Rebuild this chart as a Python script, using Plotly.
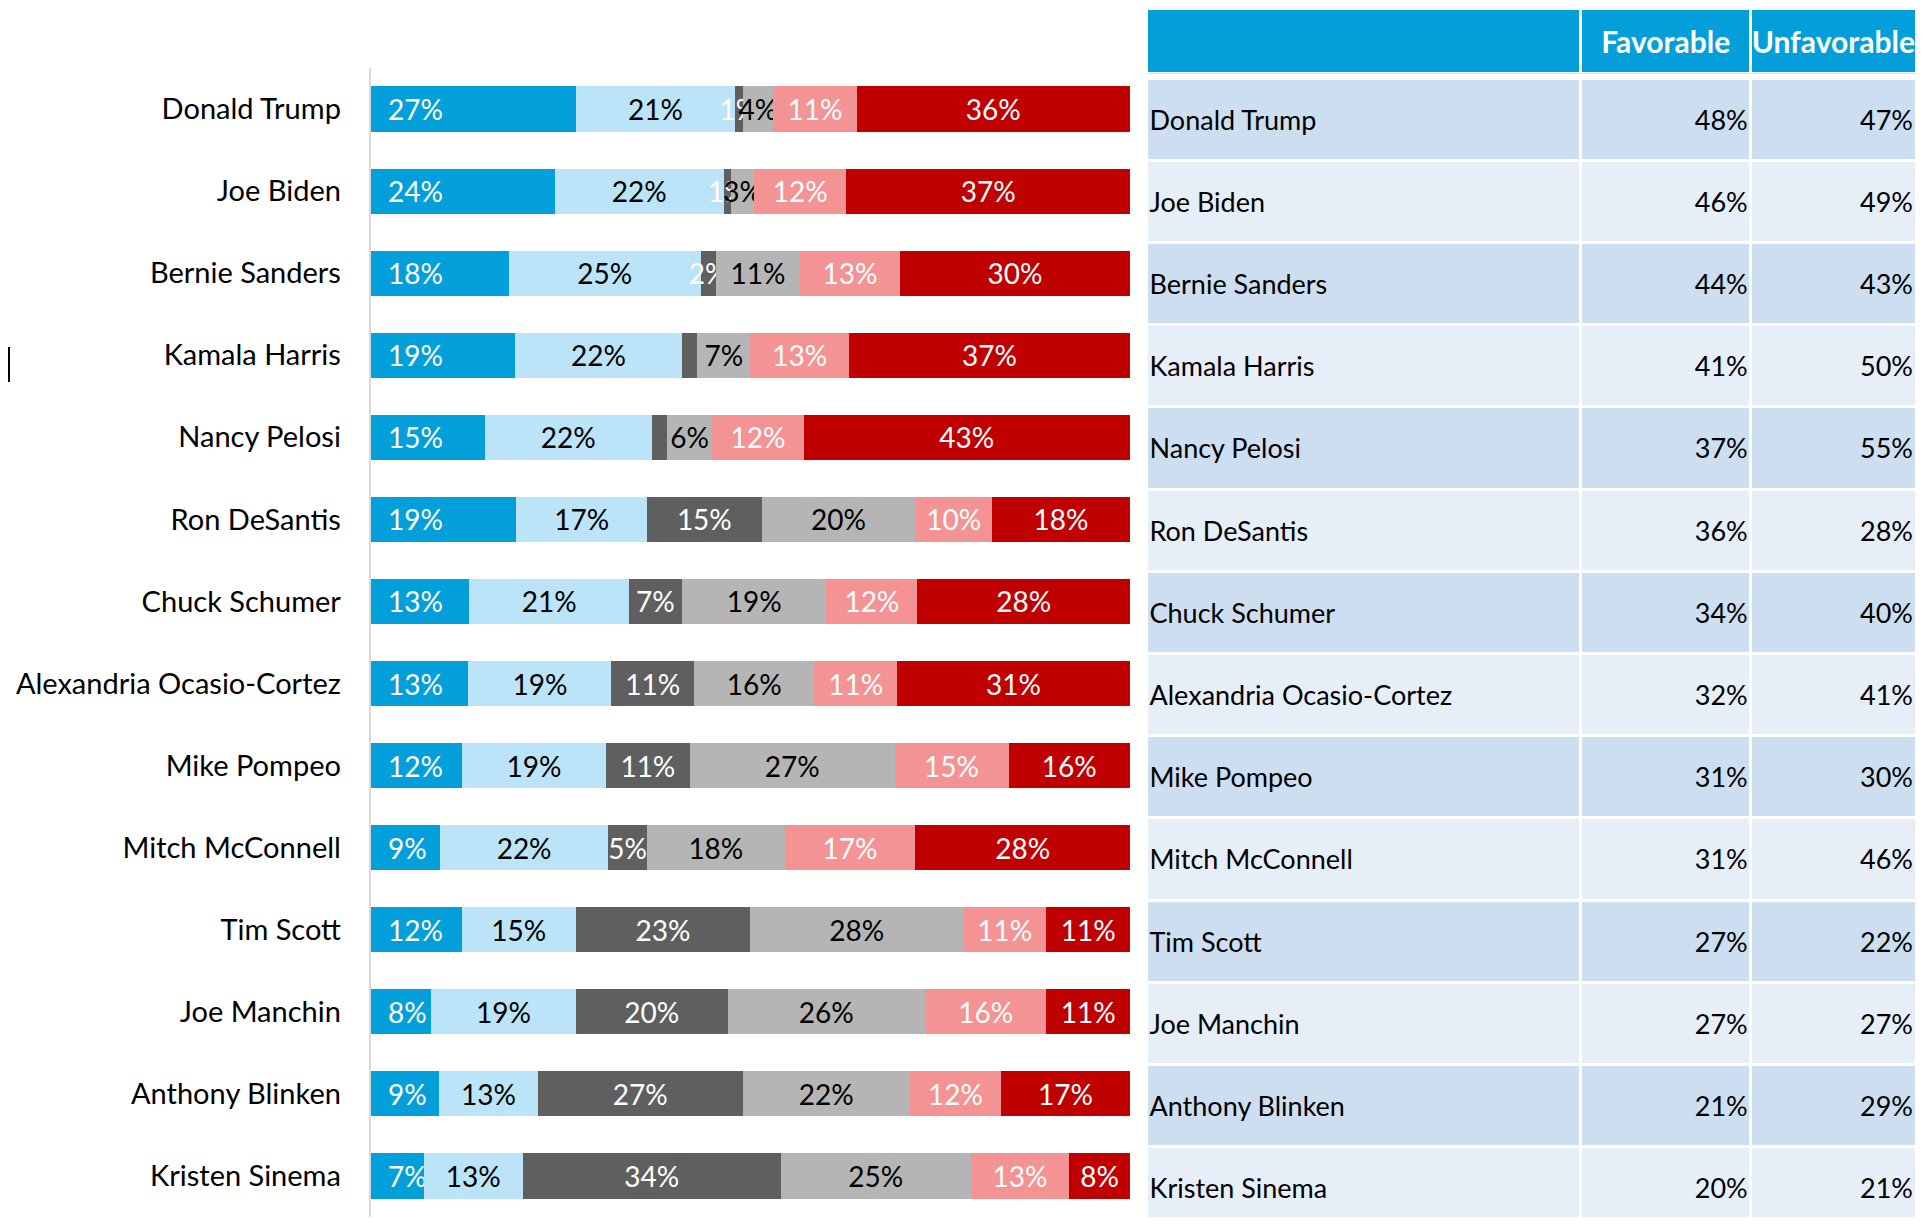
import plotly.graph_objects as go

# page has an 8px body margin, so the figure is the window minus that
FW, FH = 1908, 1209

# ---- data -------------------------------------------------------------
names = ['Donald Trump', 'Joe Biden', 'Bernie Sanders', 'Kamala Harris', 'Nancy Pelosi',
         'Ron DeSantis', 'Chuck Schumer', 'Alexandria Ocasio-Cortez', 'Mike Pompeo',
         'Mitch McConnell', 'Tim Scott', 'Joe Manchin', 'Anthony Blinken', 'Kristen Sinema']

very_fav = [27, 24, 18, 19, 15, 19, 13, 13, 12, 9, 12, 8, 9, 7]
some_fav = [21, 22, 25, 22, 22, 17, 21, 19, 19, 22, 15, 19, 13, 13]
no_opinion = [1, 1, 2, 2, 2, 15, 7, 11, 11, 5, 23, 20, 27, 34]
never_heard = [4, 3, 11, 7, 6, 20, 19, 16, 27, 18, 28, 26, 22, 25]
some_unfav = [11, 12, 13, 13, 12, 10, 12, 11, 15, 17, 11, 16, 12, 13]
very_unfav = [36, 37, 30, 37, 43, 18, 28, 31, 16, 28, 11, 11, 17, 8]

# labels that were removed in the original (overlapping slivers)
hidden_labels = {('Heard of, no opinion', 'Kamala Harris'), ('Heard of, no opinion', 'Nancy Pelosi')}

favorable = [48, 46, 44, 41, 37, 36, 34, 32, 31, 31, 27, 27, 21, 20]
unfavorable = [47, 49, 43, 50, 55, 28, 40, 41, 30, 46, 22, 27, 29, 21]
table_header = ['', 'Favorable', 'Unfavorable']

series = [
    ('Very favorable', very_fav, '#039FDA', 'white'),
    ('Somewhat favorable', some_fav, '#BBE4F8', 'black'),
    ('Heard of, no opinion', no_opinion, '#5F5F5F', 'white'),
    ('Never heard of', never_heard, '#B5B5B6', 'black'),
    ('Somewhat unfavorable', some_unfav, '#F49393', 'white'),
    ('Very unfavorable', very_unfav, '#C00000', 'white'),
]

FONT = 'Lato'
HEAD_BLUE = '#039FDA'
ROW_FILLS = ('#CCDEEF', '#E6EEF8')

# table geometry (figure px)
TBL_LEFT = 1138.5
col_px = [434.2, 170, 165.3]          # column widths incl. the white rule
ROW_PX = 82.2                          # body row pitch
BODY_TOP = 70                          # top of first body row band
HEAD_TOP, HEAD_BOT = 0, 65.5

fig = go.Figure()

# ---- stacked bars -------------------------------------------------------
for i, (label, vals, color, tcol) in enumerate(series):
    txt = ['' if (label, n) in hidden_labels else f'{v}%' for n, v in zip(names, vals)]
    if i == 0:
        txt = ['\u00a0\u00a0' + t for t in txt]
    fig.add_trace(go.Bar(
        y=names, x=vals, name=label, orientation='h',
        marker_color=color, marker_line_width=0,
        text=txt, textposition='inside', textangle=0,
        insidetextanchor='start' if i == 0 else 'middle',
        constraintext='none',
        insidetextfont=dict(family=FONT, size=28, color=tcol),
        hoverinfo='skip', showlegend=False,
    ))

# ---- table (cells drawn as bars on their own axes) ------------------------
row_fill = [ROW_FILLS[k % 2] for k in range(len(names))]
body_cols = [names, [f'{v}%' for v in favorable], [f'{v}%' for v in unfavorable]]

for c, (w, col_vals, head) in enumerate(zip(col_px, body_cols, table_header)):
    anchor = 'start' if c == 0 else 'end'
    fig.add_trace(go.Bar(
        y=names, x=[w] * len(names), orientation='h', width=1,
        xaxis='x2', yaxis='y2',
        marker=dict(color=row_fill, line=dict(color='white', width=3)),
        text=col_vals, textposition='inside', textangle=0, insidetextanchor=anchor,
        constraintext='none',
        insidetextfont=dict(family=FONT, size=27, color='black'),
        hoverinfo='skip', showlegend=False,
    ))
    fig.add_trace(go.Bar(
        y=['header'], x=[w], orientation='h', width=1,
        xaxis='x2', yaxis='y3',
        marker=dict(color=HEAD_BLUE, line=dict(color='white', width=3)),
        text=[head], textposition='inside', textangle=0, insidetextanchor='middle',
        constraintext='none',
        insidetextfont=dict(family=FONT, size=30, color='white', weight='bold'),
        hoverinfo='skip', showlegend=False,
    ))

body_rows_visible = (FH - BODY_TOP) / ROW_PX

fig.update_layout(
    width=FW, height=FH, barmode='stack', barnorm='percent', bargap=0.45,
    margin=dict(l=0, r=0, t=0, b=0),
    paper_bgcolor='white', plot_bgcolor='white',
    font=dict(family=FONT, color='black'),
    xaxis=dict(domain=[362.7 / FW, 1122 / FW], range=[0, 100], visible=False, fixedrange=True),
    yaxis=dict(domain=[0, 1 - 60 / FH], autorange='reversed',
               showline=True, linecolor='#D9D9D9', linewidth=2, ticks='',
               showgrid=False, zeroline=False, ticklabelstandoff=22, fixedrange=True,
               tickfont=dict(family=FONT, size=29, color='black')),
    xaxis2=dict(domain=[TBL_LEFT / FW, 1], range=[0, 100], anchor='y2',
                visible=False, fixedrange=True),
    yaxis2=dict(domain=[0, 1 - BODY_TOP / FH], anchor='x2',
                range=[body_rows_visible - 0.5, -0.5], visible=False, fixedrange=True),
    yaxis3=dict(domain=[1 - HEAD_BOT / FH, 1 - HEAD_TOP / FH], anchor='x2',
                range=[-0.5, 0.5], visible=False, fixedrange=True),
    shapes=[dict(type='line', xref='paper', yref='paper', x0=1 / FW, x1=1 / FW,
                 y0=1 - 374 / FH, y1=1 - 339 / FH, line=dict(color='black', width=2))],
)

fig.write_html('out.html')
